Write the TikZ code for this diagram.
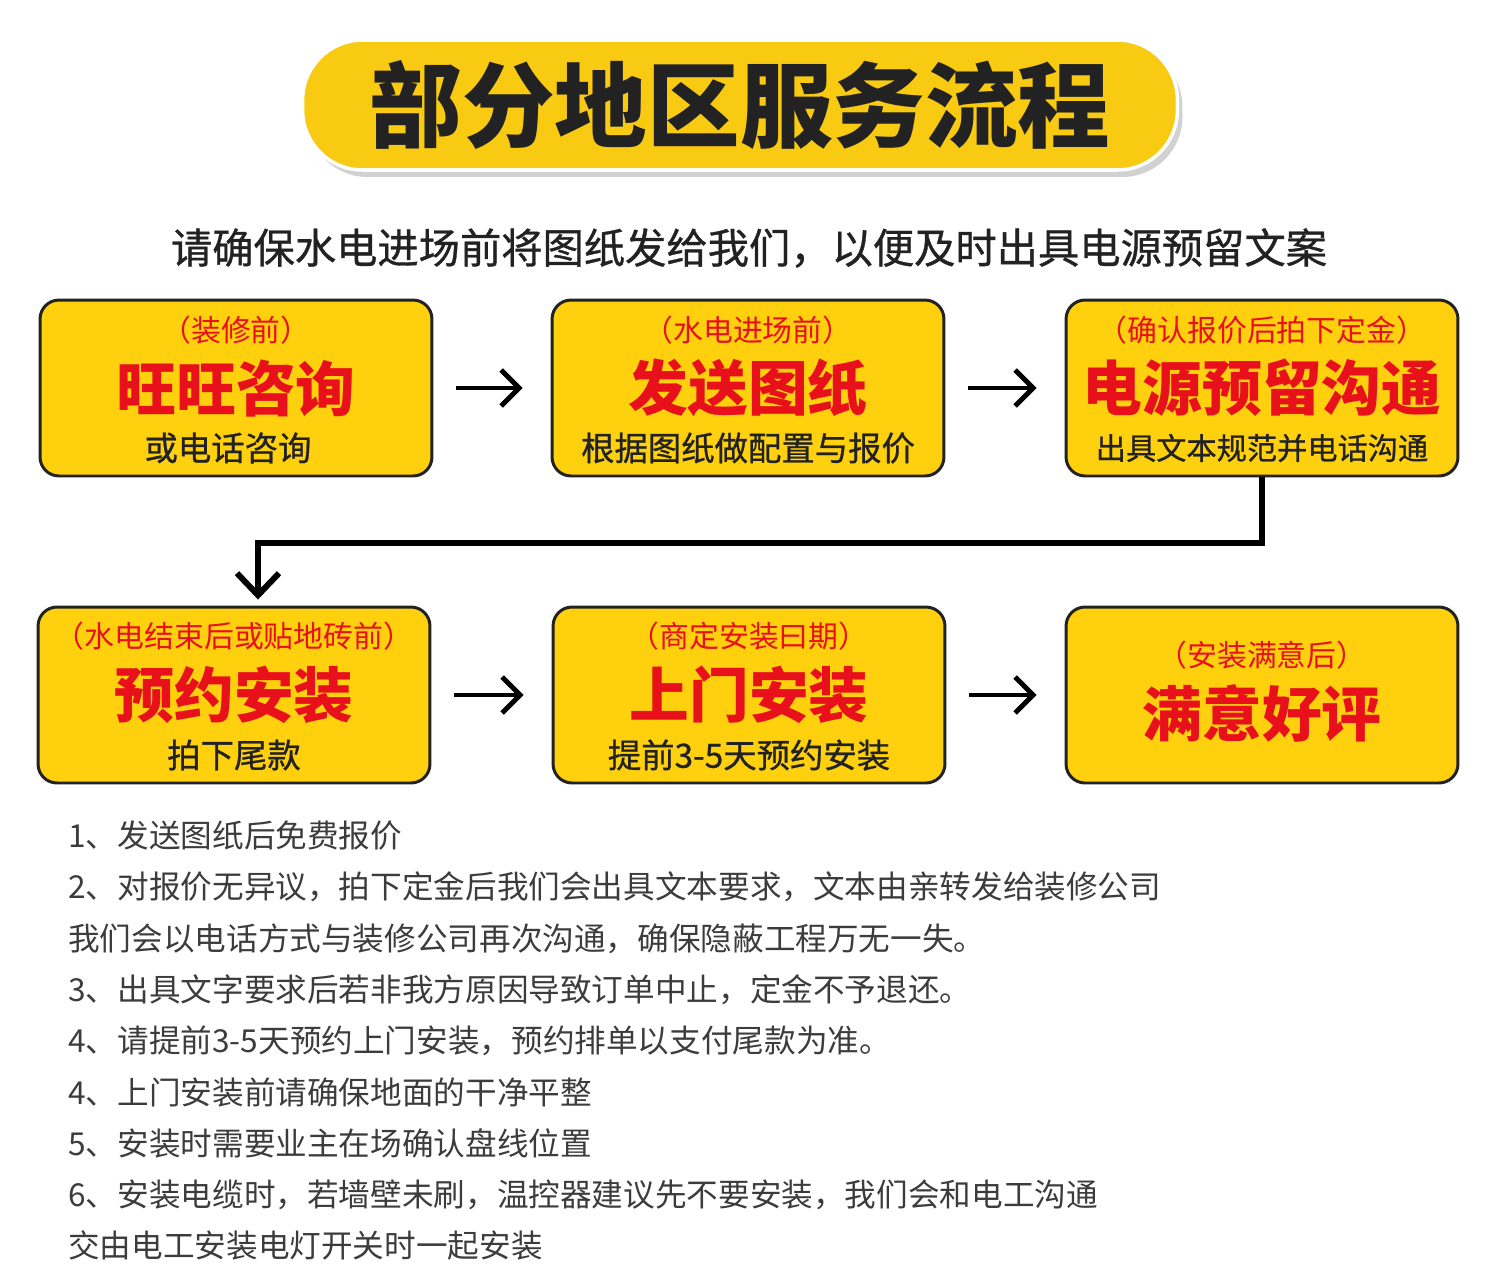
\documentclass[tikz,border=0pt]{standalone}
\usepackage{fontspec}
\setmainfont{Noto Sans CJK SC}
\newfontfamily\medfont{Noto Sans CJK SC}[FakeBold=0.8]
\usetikzlibrary{arrows.meta,calc,shadows}

\definecolor{boxyellow}{HTML}{FFD00D}
\definecolor{pillyellow}{HTML}{F9CA12}
\definecolor{headred}{HTML}{E8101A}
\definecolor{ink}{HTML}{222222}
\definecolor{notegray}{HTML}{3C3C3C}

\tikzset{
  pill/.style={fill=pillyellow, draw=white, line width=2pt, rounded corners=1.2cm,
    minimum width=17.5cm, minimum height=2.6cm, inner sep=0pt,
    drop shadow={shadow xshift=0.1cm, shadow yshift=-0.14cm, fill=black, opacity=0.18}},
  stepbox/.style={draw=ink, line width=1.7pt, fill=boxyellow, rounded corners=0.38cm,
    minimum width=7.84cm, minimum height=3.52cm, inner sep=0pt},
  phase/.style={text=headred, inner sep=0pt, font=\fontsize{17pt}{20pt}\selectfont},
  headline/.style={text=headred, inner sep=0pt, font=\fontsize{34pt}{40pt}\selectfont\bfseries},
  detail/.style={text=ink, inner sep=0pt, font=\fontsize{19pt}{22pt}\medfont},
  note/.style={anchor=west, text=notegray, inner sep=0pt, font=\fontsize{18pt}{21pt}\selectfont},
  link/.style={line width=2.8pt, -{Straight Barb[length=0.36cm,width=0.72cm]},
    shorten <=0.46cm, shorten >=0.56cm},
  elbow/.style={line width=3.4pt, -{Straight Barb[length=0.44cm,width=0.84cm]}, shorten >=0.12cm},
}

\begin{document}
\begin{tikzpicture}[x=0.02cm, y=-0.02cm]
  \useasboundingbox (0,0) rectangle (1500,1275);

  % heading
  \node[pill] (title) at (740,105) {};
  \node[text=ink, font=\fontsize{52.7pt}{60pt}\selectfont\bfseries] (titletext) at (title.center) {部分地区服务流程};
  \node[text=ink, font=\fontsize{23.5pt}{28pt}\medfont] (lead) at (749,248) {请确保水电进场前将图纸发给我们，以便及时出具电源预留文案};

  % first row
  \node[stepbox] (b1) at (236,388) {};
  \node[stepbox] (b2) at (748,388) {};
  \node[stepbox] (b3) at (1262,388) {};

  \node[phase] (p1) at ($(b1.center)+(0,-58)$) {（装修前）};
  \node[headline] (h1) at (b1.center) {旺旺咨询};
  \node[detail] (d1) at ($(b1.center)+(-8,60)$) {或电话咨询};

  \node[phase] (p2) at ($(b2.center)+(0,-58)$) {（水电进场前）};
  \node[headline] (h2) at (b2.center) {发送图纸};
  \node[detail] (d2) at ($(b2.center)+(0,60)$) {根据图纸做配置与报价};

  \node[phase] (p3) at ($(b3.center)+(0,-58)$) {（确认报价后拍下定金）};
  \node[headline] (h3) at (b3.center) {电源预留沟通};
  \node[detail, font=\fontsize{17.2pt}{20pt}\medfont] (d3) at ($(b3.center)+(0,60)$) {出具文本规范并电话沟通};

  % second row
  \node[stepbox] (b4) at (234,695) {};
  \node[stepbox] (b5) at (749,695) {};
  \node[stepbox] (b6) at (1262,695) {};

  \node[phase] (p4) at ($(b4.center)+(0,-59)$) {（水电结束后或贴地砖前）};
  \node[headline] (h4) at (b4.center) {预约安装};
  \node[detail] (d4) at ($(b4.center)+(0,60)$) {拍下尾款};

  \node[phase] (p5) at ($(b5.center)+(0,-59)$) {（商定安装曰期）};
  \node[headline] (h5) at (b5.center) {上门安装};
  \node[detail] (d5) at ($(b5.center)+(0,60)$) {提前3-5天预约安装};

  \node[phase] (p6) at ($(b6.center)+(0,-40)$) {（安装满意后）};
  \node[headline] (h6) at ($(b6.center)+(0,18)$) {满意好评};

  % connectors
  \draw[link] (b1) -- (b2);
  \draw[link] (b2) -- (b3);
  \coordinate (bend) at (258,543);
  \draw[elbow] (b3.south) |- (bend) -- (b4.north -| bend);
  \draw[link] (b4) -- (b5);
  \draw[link] (b5) -- (b6);

  % notes
  \foreach \t [count=\i] in {
    1、发送图纸后免费报价,
    2、对报价无异议，拍下定金后我们会出具文本要求，文本由亲转发给装修公司,
    我们会以电话方式与装修公司再次沟通，确保隐蔽工程万无一失。,
    3、出具文字要求后若非我方原因导致订单中止，定金不予退还。,
    4、请提前3-5天预约上门安装，预约排单以支付尾款为准。,
    4、上门安装前请确保地面的干净平整,
    5、安装时需要业主在场确认盘线位置,
    6、安装电缆时，若墙壁未刷，温控器建议先不要安装，我们会和电工沟通,
    交由电工安装电灯开关时一起安装}
    \node[note] (note\i) at (68,{836+51.2*(\i-1)}) {\t};
\end{tikzpicture}
\end{document}
